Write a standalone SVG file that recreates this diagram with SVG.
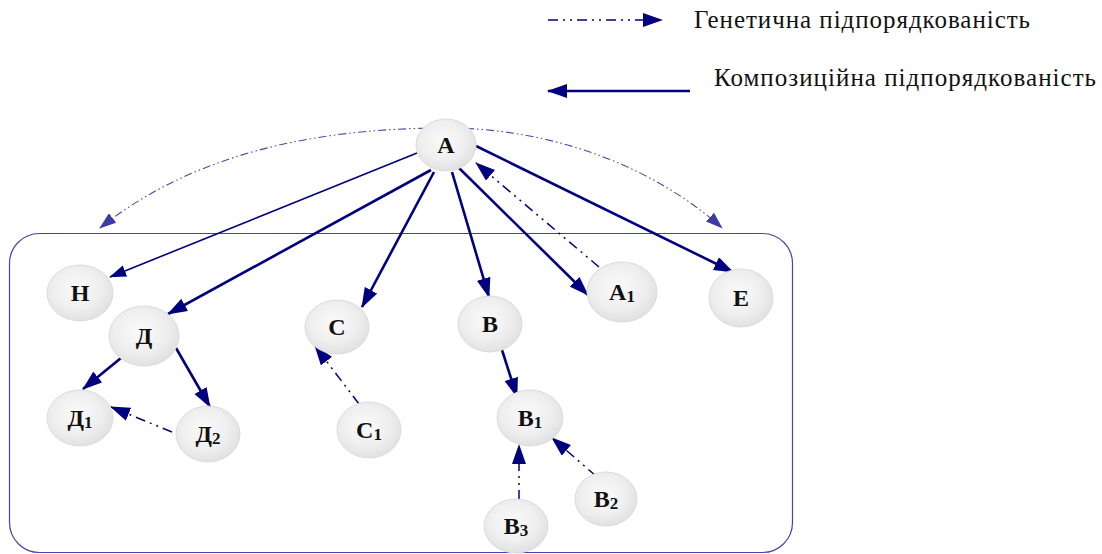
<svg xmlns="http://www.w3.org/2000/svg" width="1102" height="554" viewBox="0 0 1102 554">
<style>
.node ellipse{fill:url(#ng);stroke:#dcdcdc;stroke-width:1}
.node text{font-family:"Liberation Serif","Times New Roman",serif;font-weight:bold;font-size:24px;fill:#111;text-anchor:middle}
.node tspan.s{font-size:17px}
.comp{stroke:#00007f;stroke-width:2.6;fill:none;marker-end:url(#ah)}
.thin{stroke:#00007f;stroke-width:1.6;fill:none;marker-end:url(#ahs)}
.gen{stroke:#00007f;stroke-width:1.5;fill:none;stroke-dasharray:10 5 2 5 2 5;marker-end:url(#ah)}
.arc{stroke:#4848b0;stroke-width:1.1;fill:none;stroke-dasharray:8 3 1.5 3 1.5 3;marker-end:url(#ahl)}
.legend{font-family:"Liberation Serif","Times New Roman",serif;font-size:25px;fill:#111}
</style>
<defs>
<radialGradient id="ng" cx="0.45" cy="0.42" r="0.6">
<stop offset="0" stop-color="#fafafa"/>
<stop offset="0.6" stop-color="#efefef"/>
<stop offset="1" stop-color="#e0e0e0"/>
</radialGradient>
<marker id="ah" viewBox="0 0 20 14" refX="19" refY="7" markerWidth="20" markerHeight="14" markerUnits="userSpaceOnUse" orient="auto">
<path d="M0,0 L20,7 L0,14 Z" fill="#00007f"/>
</marker>
<marker id="ahs" viewBox="0 0 20 14" refX="19" refY="7" markerWidth="17" markerHeight="12" markerUnits="userSpaceOnUse" orient="auto">
<path d="M0,0 L20,7 L0,14 Z" fill="#00007f"/>
</marker>
<marker id="ahl" viewBox="0 0 20 14" refX="19" refY="7" markerWidth="17" markerHeight="12" markerUnits="userSpaceOnUse" orient="auto">
<path d="M0,0 L20,7 L0,14 Z" fill="#3a3aa8"/>
</marker>
</defs>
<rect x="0" y="0" width="1102" height="554" fill="#ffffff"/>

<g id="legend">
<line x1="548" y1="20" x2="662" y2="20" class="gen"/>
<text class="legend" x="694" y="28" textLength="336">Генетична підпорядкованість</text>
<line x1="690" y1="91" x2="548" y2="91" class="comp"/>
<text class="legend" x="714" y="86" textLength="382">Композиційна підпорядкованість</text>
</g>

<g id="container">
<rect x="9.5" y="233.5" width="783" height="319" rx="30" ry="30" fill="none" stroke="#4545a8" stroke-width="1.2"/>
</g>

<g id="connectors">
<path class="arc" d="M446,128 C330,128 200,148 100,228"/>
<path class="arc" d="M446,128 C560,128 660,172 722,228"/>
<line class="thin" x1="417" y1="153" x2="110" y2="277"/>
<line class="comp" x1="431" y1="170" x2="168" y2="314"/>
<line class="comp" x1="434" y1="172" x2="362" y2="307"/>
<line class="comp" x1="452" y1="172" x2="489" y2="297"/>
<line class="comp" x1="459" y1="168" x2="588" y2="295"/>
<line class="comp" x1="476" y1="146" x2="733" y2="272"/>
<line class="gen" x1="599" y1="267" x2="476" y2="163"/>
<line class="comp" x1="121" y1="358" x2="83" y2="389"/>
<line class="comp" x1="176" y1="348" x2="210" y2="407"/>
<line class="gen" x1="172" y1="432" x2="111" y2="407"/>
<line class="gen" x1="359" y1="404" x2="315" y2="346"/>
<line class="comp" x1="502" y1="350" x2="517" y2="397"/>
<line class="gen" x1="596" y1="476" x2="552" y2="438"/>
<line class="gen" x1="519" y1="500" x2="519" y2="445"/>
</g>

<g id="node-A" class="node"><ellipse cx="446" cy="145" rx="30" ry="26"/><text x="446" y="153">А</text></g>
<g id="node-H" class="node"><ellipse cx="80" cy="293" rx="33" ry="28"/><text x="80" y="301">Н</text></g>
<g id="node-D" class="node"><ellipse cx="144" cy="336" rx="35" ry="30"/><text x="144" y="344">Д</text></g>
<g id="node-C" class="node"><ellipse cx="337" cy="327" rx="32" ry="27"/><text x="337" y="335">С</text></g>
<g id="node-B" class="node"><ellipse cx="490" cy="324" rx="32" ry="28"/><text x="490" y="332">В</text></g>
<g id="node-A1" class="node"><ellipse cx="622" cy="292" rx="35" ry="30"/><text x="622" y="300">А<tspan class="s" dy="2">1</tspan></text></g>
<g id="node-E" class="node"><ellipse cx="741" cy="298" rx="32" ry="29"/><text x="741" y="306">Е</text></g>
<g id="node-D1" class="node"><ellipse cx="80" cy="418" rx="33" ry="28"/><text x="80" y="426">Д<tspan class="s" dy="2">1</tspan></text></g>
<g id="node-D2" class="node"><ellipse cx="208" cy="434" rx="32" ry="28"/><text x="208" y="442">Д<tspan class="s" dy="2">2</tspan></text></g>
<g id="node-C1" class="node"><ellipse cx="369" cy="430" rx="32" ry="28"/><text x="369" y="438">С<tspan class="s" dy="2">1</tspan></text></g>
<g id="node-B1" class="node"><ellipse cx="530" cy="418" rx="33" ry="28"/><text x="530" y="426">В<tspan class="s" dy="2">1</tspan></text></g>
<g id="node-B2" class="node"><ellipse cx="606" cy="499" rx="31" ry="27"/><text x="606" y="507">В<tspan class="s" dy="2">2</tspan></text></g>
<g id="node-B3" class="node"><ellipse cx="516" cy="526" rx="32" ry="27"/><text x="516" y="534">В<tspan class="s" dy="2">3</tspan></text></g>
</svg>
